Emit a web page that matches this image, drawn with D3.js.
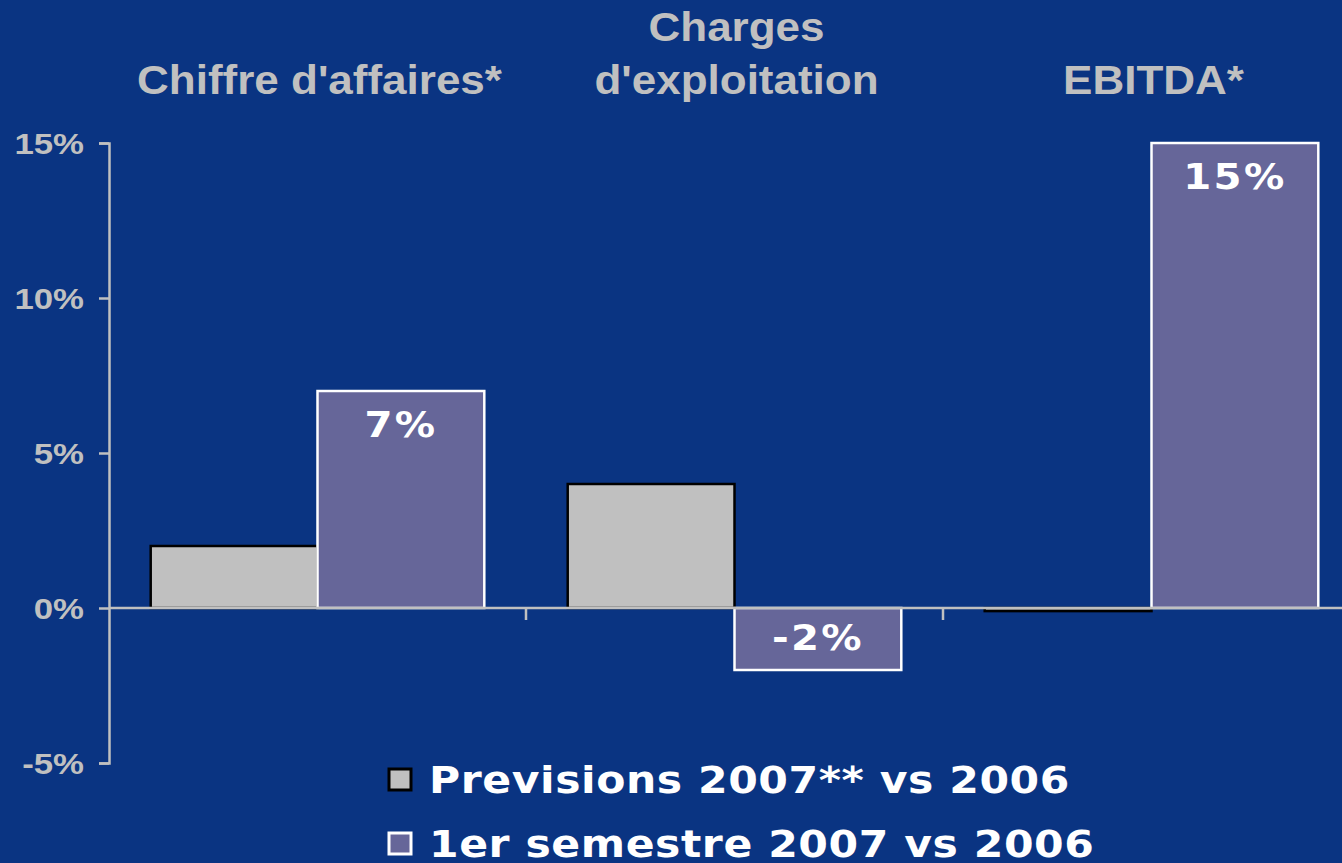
<!DOCTYPE html>
<html>
<head>
<meta charset="utf-8">
<script src="https://cdn.jsdelivr.net/npm/d3@7"></script>
<style>
  html, body { margin: 0; padding: 0; background: #0a3482; overflow: hidden; }
  svg { display: block; }
</style>
</head>
<body>
<div id="chart"></div>
<script>
// categories (each label can be split over lines)
const categories = ["Chiffre d'affaires*", "Charges d'exploitation", "EBITDA*"];
const categoryLines = [["Chiffre d'affaires*"], ["Charges", "d'exploitation"], ["EBITDA*"]];
const seriesNames = ["Previsions 2007** vs 2006", "1er semestre 2007 vs 2006"];
const previsions = [2, 4, -0.1];
const semestre = [7, -2, 15];
const yTicks = [-5, 0, 5, 10, 15];

const width = 1342, height = 863;
const bg = "#0a3482", grey = "#c0c0c0", purple = "#666699";
const sansBold = "'Liberation Sans', Arial, sans-serif";
const wideBold = "'DejaVu Sans', Verdana, sans-serif";

const svg = d3.select("#chart").append("svg")
  .attr("width", width)
  .attr("height", height)
  .style("background", bg);

// plot area runs past the right edge, like the original slide
const x0 = d3.scaleBand().domain(categories).range([109, 1360]);
const x1 = d3.scaleBand().domain([0, 1]).range([0, x0.bandwidth()]).paddingOuter(0.25);
const y = d3.scaleLinear().domain([-5, 15]).range([763, 143]);

// text helper: the slide text is stretched a bit horizontally
function stretchText(g, x, yy, sx, txt) {
  return g.append("text")
    .attr("transform", `translate(${x},${yy}) scale(${sx},1)`)
    .text(txt);
}

// y axis
const yAxis = d3.axisLeft(y).tickValues(yTicks).tickSize(10).tickFormat(d => d + "%");
const gy = svg.append("g").attr("transform", "translate(109,0)").call(yAxis);
gy.select(".domain").attr("stroke", grey).attr("stroke-width", 2.5);
gy.selectAll(".tick line").attr("stroke", grey).attr("stroke-width", 2.5);
gy.selectAll(".tick text")
  .attr("fill", grey)
  .attr("x", 0)
  .attr("dy", "0.36em")
  .attr("transform", "translate(-25,0) scale(1.16,1)")
  .style("font-family", sansBold)
  .style("font-weight", "bold")
  .style("font-size", "30px");

const series = [previsions, semestre];
const fills = [grey, purple];
const strokes = ["#000", "#fff"];

// bars
categories.forEach((c, i) => {
  series.forEach((vals, s) => {
    const v = vals[i];
    svg.append("rect")
      .attr("x", x0(c) + x1(s))
      .attr("y", y(Math.max(0, v)))
      .attr("width", x1.bandwidth())
      .attr("height", Math.abs(y(v) - y(0)))
      .attr("fill", fills[s])
      .attr("stroke", strokes[s])
      .attr("stroke-width", 2.5);
  });
});

// zero line + category ticks
svg.append("line")
  .attr("x1", 109).attr("x2", width)
  .attr("y1", y(0)).attr("y2", y(0))
  .attr("stroke", grey).attr("stroke-width", 2.5);
categories.slice(1).forEach(c => {
  svg.append("line")
    .attr("x1", x0(c)).attr("x2", x0(c))
    .attr("y1", y(0)).attr("y2", y(0) + 12)
    .attr("stroke", grey).attr("stroke-width", 2.5);
});

// value labels on the second series
const labels = svg.append("g")
  .attr("text-anchor", "middle")
  .attr("fill", "#fff")
  .style("font-family", wideBold)
  .style("font-weight", "bold")
  .style("font-size", "35px")
  .style("letter-spacing", "2px");
semestre.forEach((v, i) => {
  const cx = x0(categories[i]) + x1(1) + x1.bandwidth() / 2;
  const ty = v >= 0 ? y(v) + 46 : y(v) - 20;
  stretchText(labels, cx, ty, 1.15, v + "%");
});

// category titles
const titles = svg.append("g")
  .attr("text-anchor", "middle")
  .attr("fill", grey)
  .style("font-family", sansBold)
  .style("font-weight", "bold")
  .style("font-size", "40px");
categoryLines.forEach((lines, i) => {
  const cx = x0(categories[i]) + x0.bandwidth() / 2 + 2;
  lines.forEach((t, k) => {
    stretchText(titles, cx, 94 - (lines.length - 1 - k) * 53, 1.1, t);
  });
});

// legend
const legend = svg.selectAll("g.legendEntry")
  .data(seriesNames)
  .enter().append("g")
  .attr("class", "legendEntry")
  .attr("transform", (d, i) => `translate(389,${769 + i * 64})`);
legend.append("rect")
  .attr("width", 22).attr("height", 21)
  .attr("fill", (d, i) => fills[i])
  .attr("stroke", (d, i) => strokes[i])
  .attr("stroke-width", 3);
legend.append("text")
  .attr("transform", "translate(40,24) scale(1.12,1)")
  .attr("fill", "#fff")
  .style("font-family", wideBold)
  .style("font-weight", "bold")
  .style("font-size", "38px")
  .style("letter-spacing", "0.5px")
  .text(d => d);
</script>
</body>
</html>
